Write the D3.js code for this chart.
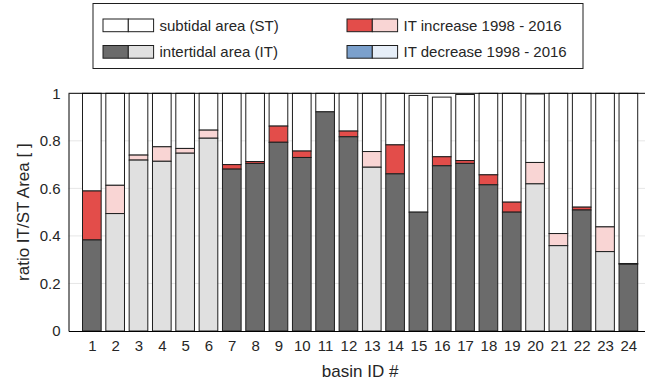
<!DOCTYPE html>
<html>
<head>
<meta charset="utf-8">
<script src="https://cdn.jsdelivr.net/npm/d3@7"></script>
<style>
  html, body { margin: 0; padding: 0; background: #fff; }
  svg { display: block; font-family: "Liberation Sans", Arial, Helvetica, sans-serif; }
</style>
</head>
<body>
<svg id="chart" width="645" height="385"></svg>
<script>
// basin ids on the x axis
const basins = d3.range(1, 25)
// intertidal share in 1998 (bottom segment)
const itBase = [0.383, 0.494, 0.719, 0.714, 0.748, 0.811, 0.681, 0.705, 0.794, 0.730, 0.922, 0.817,
                0.689, 0.661, 0.500, 0.695, 0.705, 0.615, 0.500, 0.619, 0.359, 0.509, 0.334, 0.281]
// IT change 1998 - 2016 (all increases here)
const itChange = [0.206, 0.119, 0.021, 0.061, 0.020, 0.034, 0.019, 0.008, 0.068, 0.027, 0.000, 0.024,
                  0.066, 0.122, 0.000, 0.038, 0.012, 0.042, 0.042, 0.090, 0.051, 0.012, 0.104, 0.003]
// top of the bar (IT + ST)
const barTop = [1, 1, 1, 1, 1, 1, 1, 1, 1, 1, 1, 1,
                1, 1, 0.991, 0.984, 0.995, 1, 1, 0.997, 1, 1, 1, 1]
// dark (d) or light (l) shading per basin
const shade = ['d', 'l', 'l', 'l', 'l', 'l', 'd', 'd', 'd', 'd', 'd', 'd',
               'l', 'd', 'd', 'd', 'd', 'd', 'd', 'l', 'l', 'd', 'l', 'd']
const yTicks = [0, 0.2, 0.4, 0.6, 0.8, 1]

const colors = {
  d: { base: '#6b6b6b', inc: '#e34d4a', dec: '#7ba0cc' },
  l: { base: '#e0e0e0', inc: '#f9d5d4', dec: '#e6eef8' }
}
const textCol = '#262626'

const svg = d3.select('#chart')
const x = d3.scaleLinear().domain([0, 25]).range([68.5, 651.7])
const y = d3.scaleLinear().domain([0, 1]).range([331, 93.3])
const bw = (x(1) - x(0)) * 0.8

// grid
svg.append('g')
  .selectAll('line')
  .data(yTicks.slice(1, -1))
  .enter()
  .append('line')
  .attr('x1', x(0)).attr('x2', x(25))
  .attr('y1', d => y(d)).attr('y2', d => y(d))
  .style('stroke', '#e6e6e6')
  .style('stroke-width', 1)

// bars
const rows = basins.map((b, i) => ({
  b, s: shade[i], base: itBase[i], ch: itChange[i], top: barTop[i]
}))

const bars = svg.append('g')
  .selectAll('g')
  .data(rows)
  .enter()
  .append('g')
  .attr('transform', d => `translate(${x(d.b) - bw / 2},0)`)

function seg(sel, lo, hi, fill) {
  sel.append('rect')
    .attr('x', 0)
    .attr('width', bw)
    .attr('y', d => y(hi(d)))
    .attr('height', d => Math.max(0, y(lo(d)) - y(hi(d))))
    .style('fill', fill)
    .style('stroke', '#1e1e1e')
    .style('stroke-width', 1)
}
seg(bars, d => d.base + Math.max(d.ch, 0), d => d.top, '#fff')
seg(bars.filter(d => d.ch > 0), d => d.base, d => d.base + d.ch, d => colors[d.s].inc)
seg(bars, () => 0, d => d.base, d => colors[d.s].base)

// axes frame
const yAxis = d3.axisLeft(y)
  .tickValues(yTicks)
  .tickSize(0)
  .tickPadding(8)
  .tickFormat(d3.format('~g'))
const gy = svg.append('g')
  .attr('transform', `translate(${x(0)},0)`)
  .call(yAxis)
gy.select('.domain').style('stroke', '#000')
gy.selectAll('text')
  .style('font-size', '15px')
  .style('fill', textCol)

const xAxis = d3.axisBottom(x)
  .tickValues(basins)
  .tickSize(0)
  .tickPadding(9)
const gx = svg.append('g')
  .attr('transform', `translate(0,${y(0)})`)
  .call(xAxis)
gx.select('.domain').style('stroke', '#000')
gx.selectAll('text')
  .style('font-size', '15px')
  .style('fill', textCol)

svg.append('line')
  .attr('x1', x(0)).attr('x2', x(25))
  .attr('y1', y(1)).attr('y2', y(1))
  .style('stroke', '#000')

// axis titles
svg.append('text')
  .attr('transform', `translate(29,${(y(0) + y(1)) / 2}) rotate(-90)`)
  .attr('text-anchor', 'middle')
  .style('font-size', '17px')
  .style('fill', textCol)
  .text('ratio IT/ST Area [ ]')

svg.append('text')
  .attr('x', (x(0) + x(25)) / 2)
  .attr('y', 377)
  .attr('text-anchor', 'middle')
  .style('font-size', '17px')
  .style('fill', textCol)
  .text('basin ID #')

// legend
const legendItems = [
  { label: 'subtidal area (ST)', c: ['#fff', '#fff'], col: 0, row: 0 },
  { label: 'intertidal area (IT)', c: [colors.d.base, colors.l.base], col: 0, row: 1 },
  { label: 'IT increase 1998 - 2016', c: [colors.d.inc, colors.l.inc], col: 1, row: 0 },
  { label: 'IT decrease 1998 - 2016', c: [colors.d.dec, colors.l.dec], col: 1, row: 1 }
]
const leg = svg.append('g')
leg.append('rect')
  .attr('x', 93).attr('y', 3.5)
  .attr('width', 490).attr('height', 65)
  .style('fill', '#fff')
  .style('stroke', '#1e1e1e')

const li = leg.selectAll('.item')
  .data(legendItems)
  .enter()
  .append('g')
  .attr('transform', d => `translate(${d.col ? 347 : 103},${d.row ? 45.5 : 19})`)

li.selectAll('rect')
  .data(d => d.c)
  .enter()
  .append('rect')
  .attr('x', (d, i) => i * 25.3)
  .attr('y', 0)
  .attr('width', 25.3)
  .attr('height', 12.7)
  .style('fill', d => d)
  .style('stroke', '#1e1e1e')

li.append('text')
  .attr('x', 56.5)
  .attr('y', 6.5)
  .attr('dy', '0.35em')
  .style('font-size', '15px')
  .style('fill', textCol)
  .text(d => d.label)
</script>
</body>
</html>
